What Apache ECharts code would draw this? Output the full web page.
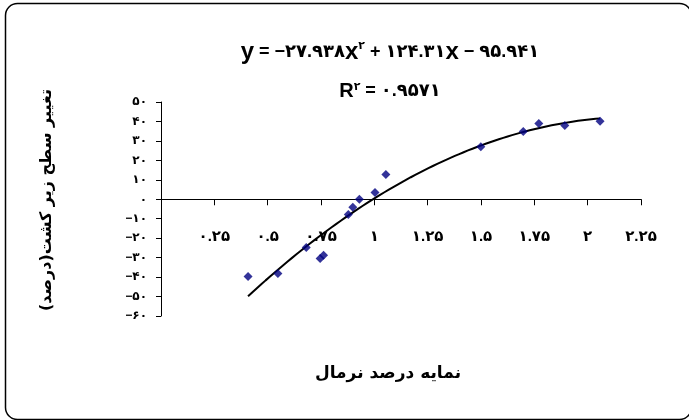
<!DOCTYPE html>
<html>
<head>
<meta charset="utf-8">
<script src="https://cdn.jsdelivr.net/npm/echarts@6/dist/echarts.min.js"></script>
<style>html,body{margin:0;padding:0;background:#fff}#c{width:689px;height:420px}</style>
</head>
<body>
<div id="c"></div>
<script>
// Data
var xValues = [0.408, 0.548, 0.681, 0.746, 0.762, 0.878, 0.899, 0.930, 1.003, 1.054, 1.499, 1.698, 1.771, 1.893, 2.058];
var yValues = [-39.7, -38.2, -24.8, -30.5, -28.8, -7.8, -4.1, 0.0, 3.5, 12.7, 27.0, 34.9, 39.0, 37.9, 40.1];
// Trendline coefficients shown on chart: y = a x^2 + b x + c
var trendCoef = [-27.938, 124.31, -95.941];
var xTicks = [0, 0.25, 0.5, 0.75, 1, 1.25, 1.5, 1.75, 2, 2.25];
var yTicks = [-60, -50, -40, -30, -20, -10, 0, 10, 20, 30, 40, 50];
var yTitle = 'تغییر سطح زیر کشت(درصد)';
var xTitle = 'نمایه درصد نرمال';

function fa(v) {
  var s = String(v);
  var d = '۰۱۲۳۴۵۶۷۸۹';
  return s.replace(/[0-9]/g, function (c) { return d[+c]; }).replace(/-/g, '−');
}

var points = xValues.map(function (x, i) { return [x, yValues[i]]; });
var xmin = Math.min.apply(null, xValues), xmax = Math.max.apply(null, xValues);
var trend = [];
var N = 80;
for (var i = 0; i <= N; i++) {
  var x = xmin + (xmax - xmin) * i / N;
  trend.push([x, trendCoef[0] * x * x + trendCoef[1] * x + trendCoef[2]]);
}

var gridTop = 102, gridBottom = 104, H = 420;
var plotH = H - gridTop - gridBottom;
var ymin = yTicks[0], ymax = yTicks[yTicks.length - 1];
// label row of the x axis sits under the y = 0 line
var xLabelOffset = -plotH * (0 - ymin) / (ymax - ymin);

var latin = 'Liberation Sans, Arial, DejaVu Sans, sans-serif';
var chart = echarts.init(document.getElementById('c'), null, {renderer: 'canvas'});
chart.setOption({
  animation: false,
  backgroundColor: '#fff',
  grid: {left: 161, right: 48, top: gridTop, bottom: gridBottom, containLabel: false},
  title: [{
    left: 385, top: 35, textAlign: 'center',
    text: '{v|y}{s| = −' + fa('27.938') + '}{v|x}{sup|' + fa(2) + '}{s| + ' + fa('124.31') + '}{v|x}{s| − ' + fa('95.941') + '}',
    textStyle: {
      rich: {
        v: {fontFamily: latin, fontWeight: 'bold', fontSize: 24, color: '#000'},
        s: {fontFamily: latin, fontWeight: 'bold', fontSize: 18, color: '#000'},
        sup: {fontFamily: latin, fontWeight: 'bold', fontSize: 11, color: '#000', verticalAlign: 'top', padding: [0, 0, 12, 0]}
      }
    }
  }, {
    left: 385, top: 76, textAlign: 'center',
    text: '{v|R}{sup|' + fa(2) + '}{s| = ' + fa('0.9571') + '}',
    textStyle: {
      rich: {
        v: {fontFamily: latin, fontWeight: 'bold', fontSize: 20, color: '#000'},
        s: {fontFamily: latin, fontWeight: 'bold', fontSize: 18, color: '#000'},
        sup: {fontFamily: latin, fontWeight: 'bold', fontSize: 11, color: '#000', verticalAlign: 'top', padding: [0, 0, 10, 0]}
      }
    }
  }],
  xAxis: [{
    type: 'value', position: 'bottom', min: xTicks[0], max: xTicks[xTicks.length - 1], interval: 0.25,
    axisLine: {onZero: true, lineStyle: {color: '#000', width: 1}},
    axisTick: {show: true, inside: false, length: 6, lineStyle: {color: '#000', width: 1}},
    splitLine: {show: false},
    axisLabel: {show: false}
  }, {
    type: 'value', position: 'bottom', min: xTicks[0], max: xTicks[xTicks.length - 1], interval: 0.25,
    offset: xLabelOffset,
    axisLine: {show: false, onZero: false},
    axisTick: {show: false},
    splitLine: {show: false},
    axisLabel: {
      margin: 30, color: '#000', fontFamily: latin, fontWeight: 'bold', fontSize: 15,
      showMinLabel: true, showMaxLabel: true, hideOverlap: false,
      formatter: function (v) { return v === 0 ? '' : fa(v); }
    }
  }],
  yAxis: {
    type: 'value', min: ymin, max: ymax, interval: 10,
    axisLine: {show: true, onZero: false, lineStyle: {color: '#000', width: 1}},
    axisTick: {show: true, inside: false, length: 5, lineStyle: {color: '#000'}},
    splitLine: {show: false},
    axisLabel: {
      margin: 14, color: '#000', fontFamily: latin, fontWeight: 'bold', fontSize: 12,
      formatter: function (v) { return fa(v); }
    }
  },
  graphic: [{
    type: 'rect', silent: true, z: -1,
    shape: {x: 5.5, y: 3.5, width: 686, height: 416, r: 12},
    style: {fill: 'none', stroke: '#000', lineWidth: 1.5}
  }, {
    type: 'text', x: 47, y: 200, rotation: Math.PI / 2,
    style: {text: yTitle, fontFamily: 'DejaVu Sans, sans-serif', fontWeight: 'bold', fontSize: 16,
      fill: '#000', align: 'center', verticalAlign: 'middle'}
  }, {
    type: 'text', x: 388, y: 374,
    style: {text: xTitle, fontFamily: 'DejaVu Sans, sans-serif', fontWeight: 'bold', fontSize: 17,
      fill: '#000', align: 'center', verticalAlign: 'middle'}
  }],
  series: [{
    type: 'line', xAxisIndex: 0, data: trend, showSymbol: false, symbol: 'none', smooth: false,
    lineStyle: {color: '#000', width: 2}, z: 2
  }, {
    type: 'scatter', xAxisIndex: 0, data: points, symbol: 'diamond', symbolSize: 9,
    itemStyle: {color: '#000080'}, z: 3
  }]
});
</script>
</body>
</html>
